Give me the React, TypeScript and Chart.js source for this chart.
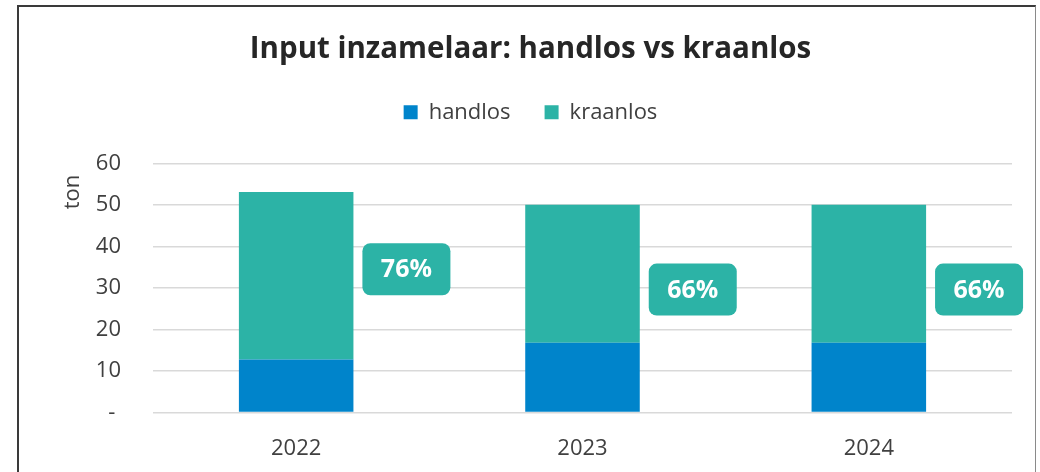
import React, { useEffect, useRef } from 'react';
import { Chart, registerables } from 'chart.js';

Chart.register(...registerables);

const categories = ['2022', '2023', '2024'];
const handlos = [12.8, 16.8, 16.8];
const kraanlos = [40.3, 33.2, 33.2];
// vertical anchor (in tons) of the percentage label boxes
const labelAnchor = [34.5, 29.6, 29.6];
const yMin = 0;
const yMax = 60;
const yStep = 10;

const BLUE = '#0084CB';
const TEAL = '#2CB3A6';
const FONT = '"Open Sans", "Noto Sans", sans-serif';

const pctPlugin = {
  id: 'pctBoxes',
  afterDatasetsDraw(chart: any) {
    const { ctx, scales } = chart;
    const x = scales.x;
    const y = scales.y;
    const catW = x.width / categories.length;
    ctx.save();
    categories.forEach((_c, i) => {
      const total = handlos[i] + kraanlos[i];
      const pct = Math.round((kraanlos[i] / total) * 100);
      const cx = x.getPixelForValue(i) + catW * 0.385;
      const cy = y.getPixelForValue(labelAnchor[i]);
      const w = 88;
      const h = 52;
      ctx.fillStyle = TEAL;
      ctx.beginPath();
      ctx.roundRect(cx - w / 2, cy - h / 2, w, h, 8);
      ctx.fill();
      ctx.fillStyle = '#ffffff';
      ctx.font = `bold 25px ${FONT}`;
      ctx.textAlign = 'center';
      ctx.textBaseline = 'middle';
      ctx.fillText(pct + '%', cx, cy + 1);
    });
    ctx.restore();
  },
};

export default function App() {
  const ref = useRef<HTMLCanvasElement | null>(null);

  useEffect(() => {
    if (!ref.current) return;
    const chart = new Chart(ref.current, {
      type: 'bar',
      data: {
        labels: categories,
        datasets: [
          {
            label: 'handlos',
            data: handlos,
            backgroundColor: BLUE,
            categoryPercentage: 1,
            barPercentage: 0.4,
          },
          {
            label: 'kraanlos',
            data: kraanlos,
            backgroundColor: TEAL,
            categoryPercentage: 1,
            barPercentage: 0.4,
          },
        ],
      },
      options: {
        responsive: false,
        animation: false,
        layout: { padding: { top: 7, left: 30, right: 23, bottom: 14 } },
        plugins: {
          title: {
            display: true,
            text: 'Input inzamelaar: handlos vs kraanlos',
            color: '#262626',
            font: { family: FONT, size: 29.5, weight: 'bold' },
            padding: { top: 17.9, bottom: 0 },
          },
          subtitle: {
            display: true,
            text: '',
            position: 'top',
            weight: 10,
            font: { size: 1, lineHeight: 1 },
            padding: { top: 0, bottom: 29 },
          },
          legend: {
            display: true,
            position: 'top',
            labels: {
              color: '#404040',
              font: { family: FONT, size: 22 },
              boxWidth: 14,
              boxHeight: 14,
              padding: 34,
            },
          },
          tooltip: { enabled: false },
        },
        scales: {
          x: {
            stacked: true,
            grid: { display: false },
            border: { display: false },
            ticks: {
              color: '#404040',
              font: { family: FONT, size: 22 },
              padding: 15,
            },
          },
          y: {
            stacked: true,
            min: yMin,
            max: yMax,
            grid: { color: '#d9d9d9', lineWidth: 1.5, drawTicks: false },
            border: { display: false },
            ticks: {
              stepSize: yStep,
              color: '#404040',
              font: { family: FONT, size: 22 },
              padding: 32,
              callback: (v: any) => (Number(v) === 0 ? '- ' : String(v)),
            },
            title: {
              display: true,
              text: 'ton  ',
              align: 'end',
              color: '#404040',
              font: { family: FONT, size: 22 },
              padding: { top: 11, bottom: 0 },
            },
            afterFit: (scale: any) => {
              scale.width = 104;
            },
          },
        },
      },
      plugins: [pctPlugin],
    });
    return () => chart.destroy();
  }, []);

  return (
    <div
      style={{
        position: 'absolute',
        left: 17,
        top: 5,
        width: 1016,
        height: 500,
        borderTop: '2px solid #3a3a3a',
        borderLeft: '2px solid #3a3a3a',
        borderRight: '1px solid #8a8a8a',
        background: '#ffffff',
        overflow: 'hidden',
      }}
    >
      <canvas ref={ref} width={1016} height={484} style={{ display: 'block' }} />
    </div>
  );
}
